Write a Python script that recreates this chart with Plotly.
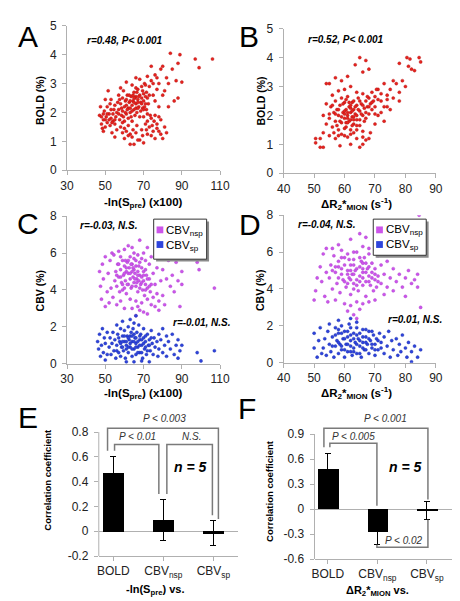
import plotly.graph_objects as go

W, H = 460, 601
FONT = "Liberation Sans, Arial, sans-serif"

# ---------------- data ----------------
# Panel A: -ln(Spre)(x100) vs BOLD (%)
A_pts = [
    (47,1.9),(48,1.6),(48.5,1.45),(49,1.75),(49.5,2.05),(50,1.5),(50.5,1.85),(51,1.65),(51,2.2),(52,1.95),
    (52.5,1.55),(53,1.8),(53,2.1),(54,1.7),(54,1.95),(55,1.6),(55,2.25),(55.5,1.85),(56,2.0),(56,1.4),
    (47.5,2.2),(50,2.45),(51.5,2.75),(49,1.35),(53.5,1.3),
    (57,2.1),(57.5,1.75),(58,2.3),(58.5,1.9),(59,2.05),(59,2.5),(60,1.7),(60,2.2),(60.5,2.4),(61,1.95),
    (61.5,2.6),(62,2.15),(62,1.8),(62.5,2.35),(63,2.0),(63.5,2.55),(64,2.25),(64,1.7),(64.5,2.4),(65,2.1),
    (65,2.7),(65.5,1.9),(66,2.3),(66,2.55),(66.5,2.0),(67,2.45),(67,2.8),(67.5,2.2),(68,2.6),(68,1.85),
    (68.5,2.35),(69,2.5),(69,2.9),(69.5,2.15),(70,2.65),(70,2.4),(70.5,3.0),(71,2.3),(71.5,2.7),(72,2.5),
    (72,1.95),(58,1.5),(60,1.45),(62,1.55),(63,1.25),(59.5,2.75),(61,3.05),(64,2.95),(66,3.2),(68,3.15),
    (72,3.25),(73,2.9),(74,3.1),(75,2.6),(76,3.3),(77,2.8),(78,3.0),(79,3.5),(80,3.6),(81,2.75),
    (82,3.2),(83,3.0),(84,4.05),(85,3.5),(86,2.4),(87,3.1),(88,3.7),(88,2.5),(89,4.0),(90,3.05),
    (97,3.85),(99,3.55),(106,3.85),(76,2.4),(78,2.2),(80,2.6),(74,3.6),(83,2.2),
    (68,1.05),(69,1.4),(70,0.95),(71,1.6),(72,1.25),(73,1.5),(74,1.8),(75,1.35),(76,1.1),(77,1.6),
    (78,1.35),(79,1.75),(80,1.1),(81,1.5),(82,1.3),(74,1.2),(72,1.7),(70,1.85),(76,1.9),(78,1.85),
    (60,1.1),(61,1.35),(63,0.9),(65,0.9),(64,1.15),(66,1.3),(67,1.05),(59,1.3),
    (57,2.6),(53,2.45),(58,2.85),(55,1.15),(63,2.15),(64,2.05),(65,2.35),(66,2.15),(67,2.35),(61,2.25),
    (56.5,2.35),(57.5,2.45),(58.5,2.15),(59.5,1.85),(60.5,2.0),(61.5,2.1),(62.5,2.6),(63.5,1.85),(64.5,2.6),(65.5,2.5),
    (66.5,2.7),(67.5,2.55),(68.5,2.05),(69.5,2.75),(70.5,2.2),(71,2.55),(71.5,2.1),(69,2.3),(67,2.15),(65,2.5),
    (63,2.4),(61,2.45),(59,1.65),(57,1.95),(55,1.75),(53.5,1.65),(52,1.75),(51,1.95),(50,1.75),(49,1.95),
    (54.5,2.1),(52.5,2.3),(48,1.85),(66,2.85),(70,2.1),(72.5,2.3),(73,2.6),(71,2.95),(75,3.0),(77,3.2),
    (73.5,1.9),(74.5,1.55),(75.5,1.7),(77,1.45),(79,1.25),(71.5,1.4),(69.5,1.2),(66.5,1.55),(64.5,1.4),(62,1.2),
]

# Panel B: dR2*MION vs BOLD (%)
B_pts = [
    (55,1.9),(55.5,2.3),(56,1.6),(56.5,2.1),(57,1.8),(57,2.5),(57.5,2.2),(58,1.5),(58,2.0),(58.5,2.35),
    (59,1.75),(59,2.6),(59.5,2.1),(60,1.9),(60,2.45),(60.5,1.6),(60.5,2.2),(61,2.0),(61,2.65),(61.5,1.8),
    (61.5,2.3),(62,2.1),(62,1.5),(62.5,1.95),(62.5,2.45),(63,2.2),(63,1.7),(63.5,2.05),(64,2.35),(64,1.85),
    (64.5,2.6),(65,2.15),(65,1.65),(65.5,2.4),(66,2.0),(66,2.75),(66.5,2.25),(67,2.5),(67,1.9),(67.5,2.3),
    (68,2.6),(68,2.05),(68.5,2.4),(69,2.2),(69,2.8),(69.5,2.5),(70,2.3),(70,2.65),(58,2.85),(60,2.9),
    (62,3.0),(64,2.8),(56,2.7),(54,2.4),(53,2.0),(54,1.7),(53,1.4),(52,1.2),(55,1.3),(57,1.2),
    (59,1.35),(61,1.25),(63,1.4),(64,1.5),(66,1.45),(60,2.05),(61,1.9),(62,2.25),(63,1.95),(60.5,1.75),
    (54,3.1),(55,3.1),(57,3.3),(59,3.2),(61,3.35),(63.5,3.75),(65,4.0),(67,3.9),(68,3.6),(66,3.5),
    (71,2.9),(72,2.5),(73,3.1),(74,2.7),(75,2.9),(76,3.2),(77,3.1),(78,2.8),(79,3.2),(80,3.0),
    (72,2.1),(74,2.3),(76,2.6),(78,2.5),(71,2.0),(73,1.8),(70,1.7),(75,2.2),
    (80.5,4.0),(81.5,3.95),(82,3.6),(83,3.55),(84.5,4.0),(85,3.85),(81,3.7),(78,3.8),
    (50.5,1.2),(50.5,1.05),(52,0.9),(53,0.9),(58.5,0.95),(66,1.0),(67,1.15),(68.5,1.4),(65,0.9),(62,1.0),(68,1.2),
    (57.5,1.65),(58,2.2),(59,1.95),(59.5,2.4),(60,1.55),(60,2.15),(60.5,2.55),(61,1.75),(61,2.1),(61.5,2.45),
    (62,1.85),(62,2.35),(62.5,1.65),(62.5,2.15),(63,1.85),(63,2.5),(63.5,2.3),(64,2.0),(64,1.65),(64.5,2.2),
    (65,1.85),(65,2.5),(65.5,2.05),(66,2.35),(66.5,1.8),(67,2.1),(67.5,2.65),(68,2.3),(69,2.45),(70,2.05),
    (58.5,1.8),(57,2.05),(56,2.35),(55,2.05),(56.5,1.4),(58,1.3),(60,1.3),(62,1.35),(64,1.2),(66,1.25),
    (70.5,2.9),(72,2.75),(73,2.3),(71,2.55),(74,2.55),
]

# Panel C: -ln(Spre)(x100) vs CBV (%)
C_nsp_pts = [
    (55,4.5),(55.5,5.0),(56,4.2),(56.5,5.4),(57,4.7),(57.5,3.9),(58,5.1),(58.5,4.4),(59,5.6),(59,4.0),
    (59.5,4.8),(60,5.3),(60.5,4.5),(61,5.0),(61,3.8),(61.5,5.5),(62,4.3),(62,4.9),(62.5,5.2),(63,4.6),
    (63,5.8),(63.5,4.1),(64,5.0),(64,5.4),(64.5,4.7),(65,4.4),(65,5.1),(65.5,4.9),(66,5.3),(66,4.2),
    (66.5,4.6),(67,5.0),(67,3.9),(67.5,4.5),(68,4.8),(68,5.5),(68.5,4.3),(69,4.7),(69,5.2),(69.5,4.0),
    (70,4.5),(70,5.0),(70.5,3.7),(71,4.3),(71.5,4.8),(72,4.1),(72,3.5),(73,4.6),(73.5,3.9),(74,4.3),
    (75,3.6),(75,4.9),
    (47,5.0),(47.5,4.2),(48,3.5),(48.5,5.4),(49,4.6),(50,3.1),(50,5.8),(51,3.9),(51.5,4.9),(52,3.3),
    (52.5,5.6),(53,4.1),(53.5,6.0),(54,3.6),(54.5,5.9),(56,3.2),(57,6.1),(58,3.4),(60,6.2),(60,3.0),
    (62,6.4),(64,6.3),(63,3.5),(65,6.0),(66,3.4),(67,5.9),(68,6.7),(70,6.0),(71,5.6),(72,6.3),
    (73,5.4),(74,5.8),(76,4.3),(76,3.1),(77,3.8),(77,5.2),(78,2.9),(78,3.4),(79,4.5),(80,3.7),
    (80,5.1),(81,3.2),(82,4.6),(83,5.6),(84,4.2),(85,4.8),(86,3.9),(87,5.5),(88,4.5),(89,3.1),
    (90,5.0),(90,4.3),(98,5.5),(99,5.1),(107,4.1),(64,3.0),(66,2.6),(68,2.9),(67,3.1),(70,2.8),
    (72,2.7),(69,3.3),(74,3.2),
    (58,4.7),(59,4.3),(60,4.9),(60.5,5.6),(61.5,4.3),(62,5.6),(63,4.9),(63.5,5.4),(64,4.2),(64.5,5.2),
    (65.5,4.6),(66,5.6),(66.5,4.4),(67,4.8),(67.5,5.3),(68,4.1),(69,4.4),(70,4.8),(71,5.1),(72,4.6),
    (58,5.8),(61,5.2),(65,5.7),(69,5.7),(71,4.0),(73,4.2),(60,4.1),(56,4.8),(57,5.4),
]
C_sp_pts = [
    (52,0.9),(52.5,1.4),(53,0.5),(53.5,1.1),(54,1.7),(54.5,0.7),(55,1.3),(55.5,0.3),(56,1.0),(56.5,1.6),
    (57,0.6),(57.5,1.2),(58,1.9),(58,0.4),(58.5,0.9),(59,1.5),(59.5,0.7),(60,1.2),(60,1.8),(60.5,0.3),
    (61,1.0),(61.5,1.5),(62,0.6),(62,2.0),(62.5,1.3),(63,0.9),(63.5,1.7),(64,0.4),(64,1.2),(64.5,1.9),
    (65,0.8),(65.5,1.4),(66,0.5),(66,1.1),(66.5,1.7),(67,0.9),(67.5,2.1),(68,1.3),(68,0.6),(68.5,1.6),
    (69,1.0),(69.5,0.3),(70,1.4),(70,1.9),(70.5,0.8),(71,1.2),(71.5,0.5),(72,1.6),(72.5,1.0),(73,1.3),
    (73.5,0.7),(74,1.8),(74.5,1.1),(75,0.5),(75.5,1.4),(76,0.9),(77,1.2),(77.5,0.4),(78,1.6),(78,0.8),
    (46,1.2),(46.5,0.8),(47,1.6),(47.5,0.4),(48,1.0),(48.5,1.9),(49,0.6),(49.5,1.4),(50,0.2),(50,1.1),
    (51,1.7),(51,0.5),(56,2.1),(59,2.3),(63,2.4),(65,2.2),(66,2.6),(61,0.1),(65,0.1),(69,0.15),
    (73,0.1),(79,1.3),(80,0.6),(80,1.9),(81,1.0),(82,0.4),(82,1.5),(83,1.2),(84,0.8),(85,1.6),
    (86,0.5),(87,1.0),(88,1.3),(89,0.7),(90,1.0),(88,0.3),(98,0.6),(100,0.15),(107,0.7),
    (56,0.7),(57,1.4),(58,1.1),(59,0.9),(60,1.5),(61,0.8),(62,1.4),(63,1.1),(63,1.5),(64,0.8),
    (65,1.2),(65,1.6),(66,0.9),(67,1.2),(67,0.6),(68,1.0),(69,1.3),(69,0.6),(70,1.1),(71,0.9),
    (71,1.5),(72,0.7),(73,1.0),(74,1.4),(61,1.2),(62,0.9),(66,1.4),(64,1.5),(59,1.2),(68,1.5),
]

# Panel D: dR2*MION vs CBV (%)
D_nsp_pts = [
    (55,4.6),(55.5,5.3),(56,4.0),(56.5,5.8),(57,4.9),(57.5,4.3),(58,5.5),(58.5,3.8),(59,5.1),(59,6.1),
    (59.5,4.5),(60,5.7),(60.5,4.1),(61,5.0),(61,5.9),(61.5,4.6),(62,5.3),(62,3.7),(62.5,4.8),(63,5.6),
    (63,4.3),(63.5,5.0),(64,4.5),(64,6.0),(64.5,3.9),(65,5.2),(65,4.7),(65.5,5.5),(66,4.2),(66,4.9),
    (66.5,5.7),(67,4.4),(67,3.6),(67.5,5.1),(68,4.7),(68,5.9),(68.5,4.2),(69,4.9),(69,5.4),(69.5,3.9),
    (70,4.5),(70,5.1),(70.5,4.1),(71,4.7),(72,4.3),(72,5.3),
    (52,5.2),(52.5,4.4),(53,5.9),(53.5,3.6),(54,6.2),(54,4.9),(54.5,3.3),(56,6.2),(57,3.4),(58,6.4),
    (60,3.2),(62,6.7),(63,6.0),(65,7.0),(66,6.3),(67,6.8),(68,6.2),(70,6.1),(71,5.8),(72,6.0),
    (73,4.8),(73,3.7),(74,5.5),(74,4.1),(75,4.6),(76,3.9),(76,5.1),(77,4.4),(78,4.8),(79,4.1),
    (80,4.6),(80,3.6),(81,5.0),(82,4.3),(83,4.5),(84,4.8),(84,4.1),(85,3.0),(84.5,8.0),(50.5,3.9),
    (50,3.4),(51,4.6),(62,3.1),(63,2.6),(64,2.4),(65,2.9),(66,3.2),(64,3.3),(61,2.8),(68,3.3),(70,3.4),
    (58,4.6),(58,5.2),(59,4.8),(60,4.4),(60,5.3),(61,4.8),(61.5,5.6),(62,4.5),(62,5.0),(63,4.8),
    (63,5.3),(64,5.1),(64,4.2),(65,4.4),(65,5.7),(66,5.1),(66,4.6),(67,4.9),(67,5.4),(68,4.4),
    (69,4.6),(70,4.8),(71,4.4),(59,5.7),(61,4.3),(63,4.0),(66,5.4),(68,5.2),(57,5.2),(56,5.0),
]
D_sp_pts = [
    (53,0.8),(53.5,1.3),(54,0.4),(54.5,1.7),(55,1.0),(55.5,0.6),(56,1.4),(56.5,0.3),(57,1.9),(57,0.9),
    (57.5,1.2),(58,0.5),(58,1.6),(58.5,1.0),(59,2.0),(59,0.7),(59.5,1.3),(60,0.3),(60,1.7),(60.5,1.0),
    (61,0.6),(61,1.4),(61.5,2.1),(62,0.9),(62,1.2),(62.5,0.4),(63,1.6),(63,0.8),(63.5,1.1),(64,1.9),
    (64,0.5),(64.5,1.3),(65,0.9),(65,1.6),(65.5,0.3),(66,1.1),(66,1.8),(66.5,0.7),(67,1.4),(67.5,1.0),
    (68,0.5),(68,1.7),(68.5,1.2),(69,0.8),(69.5,1.5),(70,1.0),(70,0.4),(70.5,1.3),(71,0.7),(71.5,1.6),
    (72,1.1),(50,1.6),(50,0.8),(51,0.3),(51.5,1.2),(52,1.9),(52.5,0.5),(55,2.1),(58,2.3),(62,2.4),
    (64,2.2),(73,0.5),(73,1.4),(74,0.9),(74.5,1.7),(75,0.3),(75.5,1.2),(76,0.7),(77,1.3),(77.5,0.4),
    (78,1.0),(78.5,0.6),(79,1.5),(80,0.8),(80.5,0.3),(81,1.1),(82,0.6),(82,0.05),(83,0.9),(85,0.7),(84,0.3),
    (56,0.9),(57,1.5),(58,1.1),(59,0.9),(59,1.6),(60,1.3),(61,1.0),(61,1.7),(62,1.5),(63,1.3),
    (63,0.6),(64,1.0),(64,1.5),(65,1.2),(66,0.8),(66,1.4),(67,1.1),(67,0.7),(68,1.3),(69,1.0),
    (69,1.7),(70,0.7),(71,1.2),(72,0.8),(60,0.7),(62,0.6),(65,0.5),(58,1.8),(62,1.9),(67,1.8),
]

# Panels E/F: mean correlation coefficient (n = 5)
bar_categories = ["BOLD", "CBV<sub>nsp</sub>", "CBV<sub>sp</sub>"]
E_r = [0.47, 0.09, -0.015]
E_err = [0.13, 0.165, 0.10]
F_r = [0.48, -0.27, -0.015]
F_err = [0.19, 0.15, 0.11]

# ---------------- figure ----------------
def px(x): return x / W
def py(y): return 1 - y / H

RED, RED_E = "#e6231e", "#b01212"
MAG, MAG_E = "#cc55ea", "#a83ccc"
BLUE, BLUE_E = "#2e44dc", "#1a2aa8"
AXC = "#b0b0b0"

fig = go.Figure()

def add_scatter(pts, color, edge, n):
    fig.add_trace(go.Scatter(
        x=[p[0] for p in pts], y=[p[1] for p in pts], mode="markers",
        marker=dict(size=3.1, color=color, line=dict(width=0.4, color=edge)),
        xaxis="x" + n, yaxis="y" + n, showlegend=False, hoverinfo="skip"))

add_scatter(A_pts, RED, RED_E, "")
add_scatter(B_pts, RED, RED_E, "2")
add_scatter(C_nsp_pts, MAG, MAG_E, "3")
add_scatter(C_sp_pts, BLUE, BLUE_E, "3")
add_scatter(D_nsp_pts, MAG, MAG_E, "4")
add_scatter(D_sp_pts, BLUE, BLUE_E, "4")

xs = list(range(len(bar_categories)))
for r, e, n in [(E_r, E_err, "5"), (F_r, F_err, "6")]:
    fig.add_trace(go.Bar(
        x=xs, y=r, width=0.42, marker=dict(color="black", line=dict(width=0)),
        error_y=dict(type="data", array=e, color="black", thickness=1, width=3),
        xaxis="x" + n, yaxis="y" + n, showlegend=False, hoverinfo="skip"))

tickfont = dict(family=FONT, size=12, color="#222")
base = dict(showgrid=False, zeroline=False, showline=True, linecolor=AXC, linewidth=1,
            ticks="outside", ticklen=4, tickcolor=AXC, tickfont=tickfont, fixedrange=True)

def xax(dom, rng, tv, anchor):
    return dict(base, domain=[px(dom[0]), px(dom[1])], range=rng, tickvals=tv, anchor=anchor)

def yax(dom, rng, tv, anchor):
    return dict(base, domain=[py(dom[1]), py(dom[0])], range=rng, tickvals=tv, anchor=anchor,
                ticklabelstandoff=3)

layout = dict(
    width=W, height=H, margin=dict(l=0, r=0, t=0, b=0),
    paper_bgcolor="white", plot_bgcolor="white", showlegend=False, bargap=0,
    xaxis=xax((54, 213), [30, 110], [30, 50, 70, 90, 110], "y"),
    yaxis=yax((11, 159), [0, 5], [0, 1, 2, 3, 4, 5], "x"),
    xaxis2=xax((279, 437), [40, 90], [40, 50, 60, 70, 80, 90], "y2"),
    yaxis2=yax((14, 162), [0, 5], [0, 1, 2, 3, 4, 5], "x2"),
    xaxis3=xax((54, 213), [30, 110], [30, 50, 70, 90, 110], "y3"),
    yaxis3=yax((206, 357), [0, 8], [0, 2, 4, 6, 8], "x3"),
    xaxis4=xax((279, 437), [40, 90], [40, 50, 60, 70, 80, 90], "y4"),
    yaxis4=yax((205, 356), [0, 8], [0, 2, 4, 6, 8], "x4"),
)
# bar panels
layout["xaxis5"] = dict(xax((87, 232), [-0.29, 2.5], xs, "y5"), ticktext=bar_categories)
layout["yaxis5"] = dict(yax((414.3, 554), [-0.2, 0.9], [-0.2, 0, 0.2, 0.4, 0.6, 0.8], "x5"),
                        ticktext=["-0.2", "0", "0.2", "0.4", "0.6", "0.8"], showline=False,
                        zeroline=True, zerolinecolor=AXC, zerolinewidth=1)
layout["xaxis6"] = dict(xax((311, 455), [-0.27, 2.53], xs, "y6"), ticktext=bar_categories)
layout["yaxis6"] = dict(yax((420.5, 557), [-0.6, 1.0], [-0.6, -0.3, 0, 0.3, 0.6, 0.9], "x6"),
                        ticktext=["-0.6", "-0.3", "0", "0.3", "0.6", "0.9"], showline=False,
                        zeroline=True, zerolinecolor=AXC, zerolinewidth=1)
fig.update_layout(**layout)

shapes = []
# y-axis lines for bar panels (stop at the top tick)
shapes.append(dict(type="line", xref="x5 domain", yref="y5", x0=0, x1=0, y0=-0.2, y1=0.8,
                   line=dict(color=AXC, width=1)))
shapes.append(dict(type="line", xref="x6 domain", yref="y6", x0=0, x1=0, y0=-0.6, y1=0.9,
                   line=dict(color=AXC, width=1)))
BR = dict(color="#7a7a7a", width=1.5)
def bracket(n, pts):
    path = "M " + " L ".join(f"{x},{y}" for x, y in pts)
    shapes.append(dict(type="path", xref="x" + n, yref="y" + n, path=path, line=BR))
bracket("5", [(-0.115, 0.65), (-0.115, 0.83), (2.10, 0.83), (2.10, 0.10)])
bracket("5", [(0.025, 0.65), (0.025, 0.70), (0.91, 0.70), (0.91, 0.30)])
bracket("5", [(1.07, 0.30), (1.07, 0.70), (1.98, 0.70), (1.98, 0.13)])
bracket("6", [(-0.08, 0.74), (-0.08, 0.97), (2.02, 0.97), (2.02, 0.115)])
bracket("6", [(0.04, 0.74), (0.04, 0.79), (0.99, 0.79), (0.99, 0.04)])
bracket("6", [(0.99, -0.43), (0.99, -0.46), (2.02, -0.46), (2.02, -0.13)])

# legends for C and D (drawn boxes)
def legend_box(x0, y0, x1, y1):
    shapes.append(dict(type="rect", xref="paper", yref="paper", x0=px(x0 + 2.5), x1=px(x1 + 2.5),
                       y0=py(y1 + 2.5), y1=py(y0 + 2.5), fillcolor="#8a8a8a", line=dict(width=0)))
    shapes.append(dict(type="rect", xref="paper", yref="paper", x0=px(x0), x1=px(x1),
                       y0=py(y1), y1=py(y0), fillcolor="white", line=dict(color="#333", width=1)))
    for yy, col in [(y0 + 11, MAG), (y0 + 26, BLUE)]:
        shapes.append(dict(type="rect", xref="paper", yref="paper", x0=px(x0 + 3), x1=px(x0 + 10),
                           y0=py(yy + 3.5), y1=py(yy - 3.5), fillcolor=col, line=dict(width=0)))
legend_box(144, 209, 199, 250)
legend_box(372, 209, 427, 246)
fig.update_layout(shapes=shapes)

ann = []
def A(x, y, text, size=11, bold=False, italic=False, angle=0, xanchor="center", color="black"):
    t = text
    if italic: t = "<i>" + t + "</i>"
    if bold: t = "<b>" + t + "</b>"
    ann.append(dict(x=px(x), y=py(y), xref="paper", yref="paper", text=t, showarrow=False,
                    xanchor=xanchor, yanchor="middle", textangle=angle,
                    font=dict(family=FONT, size=size, color=color)))

# panel letters
for L, x, y in [("A", 14, 22), ("B", 243, 22), ("C", 14, 213), ("D", 244, 214),
                ("E", 13, 412), ("F", 241, 403)]:
    A(x, y, L, size=30)

# r/P annotations
A(73, 26, "r=0.48, P&lt; 0.001", size=10, bold=True, italic=True, xanchor="left")
A(302, 25, "r=0.52, P&lt; 0.001", size=10, bold=True, italic=True, xanchor="left")
A(65, 216, "r=-0.03, N.S.", size=10, bold=True, italic=True, xanchor="left")
A(162, 315, "r=-0.01, N.S.", size=10, bold=True, italic=True, xanchor="left")
A(292, 214, "r=-0.04, N.S.", size=10, bold=True, italic=True, xanchor="left")
A(385, 312, "r=0.01, N.S.", size=10, bold=True, italic=True, xanchor="left")

# legend text
A(155, 221, "CBV<sub>nsp</sub>", size=11.5, xanchor="left")
A(155, 236, "CBV<sub>sp</sub>", size=11.5, xanchor="left")
A(383, 220, "CBV<sub>nsp</sub>", size=11.5, xanchor="left")
A(383, 235, "CBV<sub>sp</sub>", size=11.5, xanchor="left")

# axis titles
xt_ln = "-ln(S<sub>pre</sub>) (x100)"
xt_dr = "ΔR<sub>2</sub>*<sub>MION</sub> (s<sup>-1</sup>)"
A(133, 192, xt_ln, size=11.5, bold=True)
A(355, 193, xt_dr, size=11.5, bold=True)
A(133, 388, xt_ln, size=11.5, bold=True)
A(355, 387, xt_dr, size=11.5, bold=True)
A(26, 88, "BOLD (%)", size=10.5, bold=True, angle=-90)
A(255, 88, "BOLD (%)", size=10.5, bold=True, angle=-90)
A(26, 283, "CBV (%)", size=10.5, bold=True, angle=-90)
A(255, 282, "CBV (%)", size=10.5, bold=True, angle=-90)
A(34, 476, "Correlation coefficient", size=9.5, bold=True, angle=-90)
A(264, 487, "Correlation coefficient", size=9.5, bold=True, angle=-90)
A(145, 589, "-ln(S<sub>pre</sub>) vs.", size=11, bold=True)
A(376, 590, "ΔR<sub>2</sub>*<sub>MION</sub> vs.", size=11, bold=True)

# significance labels
A(155, 413, "P &lt; 0.003", size=10, italic=True, color="#333")
A(127, 432, "P &lt; 0.01", size=10, italic=True, color="#333")
A(183, 432, "N.S.", size=10, italic=True, color="#333")
A(182, 463, "n = 5", size=14, bold=True, italic=True)
A(385, 413, "P &lt; 0.001", size=10, italic=True, color="#333")
A(352, 432, "P &lt; 0.005", size=10, italic=True, color="#333")
A(405, 463, "n = 5", size=14, bold=True, italic=True)
A(404, 538, "P &lt; 0.02", size=10, italic=True, color="#333")

fig.update_layout(annotations=ann)
fig.write_html("out.html")
